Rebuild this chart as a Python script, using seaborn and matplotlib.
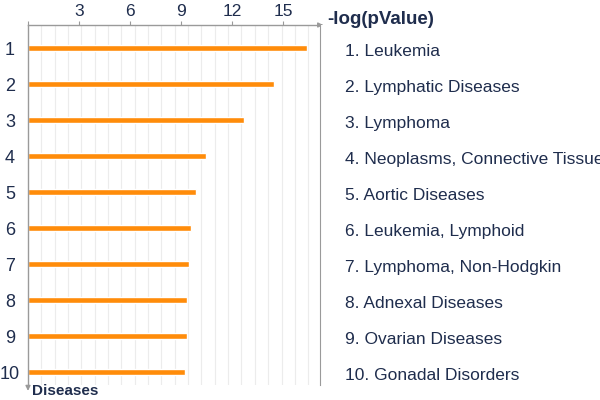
import numpy as np
import pandas as pd
import seaborn as sns
import matplotlib.pyplot as plt

ranks = ["1", "2", "3", "4", "5", "6", "7", "8", "9", "10"]
diseases = ["Leukemia", "Lymphatic Diseases", "Lymphoma",
            "Neoplasms, Connective Tissue", "Aortic Diseases",
            "Leukemia, Lymphoid", "Lymphoma, Non-Hodgkin",
            "Adnexal Diseases", "Ovarian Diseases", "Gonadal Disorders"]
neg_log_p = [16.4, 14.5, 12.7, 10.5, 9.9, 9.6, 9.5, 9.35, 9.35, 9.25]
x_ticks = [3, 6, 9, 12, 15]

df = pd.DataFrame({"rank": ranks, "disease": diseases, "value": neg_log_p})

sns.set_style("white")
plt.rcParams['font.family'] = ['Liberation Sans', 'DejaVu Sans']

navy = "#1f2d4d"
axis_grey = "#9a9a9a"
orange = "#ff8c0a"

fig = plt.figure(figsize=(6, 4), dpi=100)
ax = fig.add_axes([28 / 600, 15 / 400, 292 / 600, 360 / 400])
ax2 = fig.add_axes([320 / 600, 15 / 400, 280 / 600, 360 / 400])

sns.barplot(data=df, x="value", y="rank", orient="h", color=orange,
            width=0.18, saturation=1, ax=ax)

xmax = 17.18
ax.set_xlim(0, xmax)
ax.set_ylim(9.36, -0.64)

# light vertical grid
for gx in np.arange(0.785, xmax, 0.785):
    ax.axvline(gx, color="#ececec", lw=0.8, zorder=0)

ax.xaxis.tick_top()
ax.set_xticks([0] + x_ticks)
ax.set_xticklabels([""] + [str(t) for t in x_ticks])
ax.tick_params(axis="x", length=3, color=axis_grey, labelsize=12.5,
               labelcolor=navy, pad=1)
ax.set_yticks(range(len(ranks)))
ax.set_yticklabels(ranks, ha="center")
ax.tick_params(axis="y", length=0, labelsize=13, labelcolor=navy, pad=13)
ax.set_yticks([i + 0.36 for i in range(len(ranks) - 1)], minor=True)
ax.tick_params(axis="y", which="minor", length=5, color=axis_grey)
ax.set_xlabel("")
ax.set_ylabel("")

for s in ["right", "bottom"]:
    ax.spines[s].set_visible(False)
for s in ["top", "left"]:
    ax.spines[s].set_color(axis_grey)
    ax.spines[s].set_linewidth(1)

# axis arrows
ax.annotate("", xy=(xmax + 0.35, -0.64), xytext=(xmax - 0.1, -0.64),
            arrowprops=dict(arrowstyle="-|>", color=axis_grey, lw=1,
                            mutation_scale=7), annotation_clip=False)
ax.annotate("", xy=(0, 9.6), xytext=(0, 9.3),
            arrowprops=dict(arrowstyle="-|>", color=axis_grey, lw=1,
                            mutation_scale=7), annotation_clip=False)

fig.text(327 / 600, 1 - 19 / 400, "-log(pValue)", fontsize=13.5,
         fontweight="bold", color=navy, va="center", ha="left")
fig.text(32 / 600, 1 - 391 / 400, "Diseases", fontsize=11,
         fontweight="bold", color=navy, va="center", ha="left")

# right panel with disease names
ax2.set_xlim(0, 280)
ax2.set_ylim(9.36, -0.64)
for s in ["top", "right", "bottom"]:
    ax2.spines[s].set_visible(False)
ax2.spines["left"].set_color(axis_grey)
ax2.set_xticks([])
ax2.set_yticks([i + 0.36 for i in range(len(ranks) - 1)])
ax2.set_yticklabels([])
ax2.tick_params(axis="y", direction="in", length=5, color=axis_grey)
for i, (r, d) in enumerate(zip(ranks, diseases)):
    ax2.text(25, i + 0.1, f"{r}. {d}", fontsize=12.5, color=navy,
             va="center", ha="left", clip_on=False)

fig.savefig("out.png", dpi=100)
